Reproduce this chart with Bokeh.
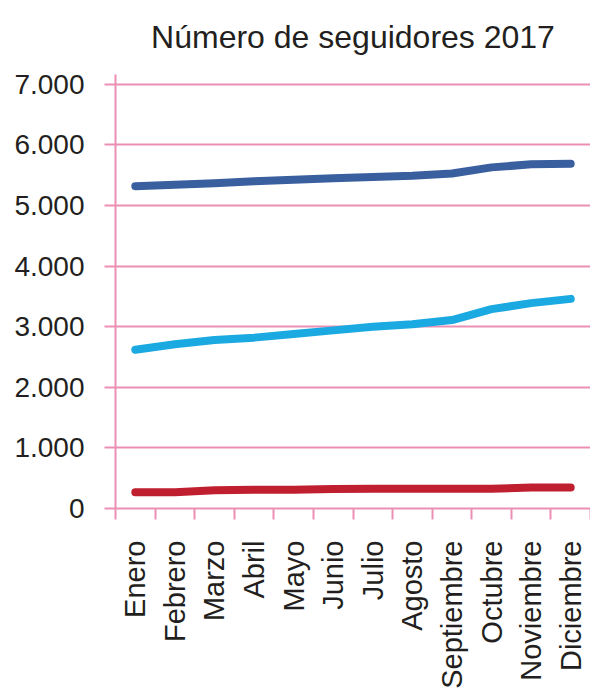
import math
from bokeh.plotting import figure
from bokeh.models import FixedTicker, Range1d
from bokeh.embed import file_html
from bokeh.resources import INLINE

# ---- data ----
months = ["Enero", "Febrero", "Marzo", "Abril", "Mayo", "Junio", "Julio",
          "Agosto", "Septiembre", "Octubre", "Noviembre", "Diciembre"]
serie_oscura = [5320, 5345, 5370, 5400, 5425, 5450, 5470, 5490, 5530, 5630, 5680, 5690]
serie_clara = [2620, 2710, 2780, 2820, 2880, 2940, 3000, 3040, 3110, 3290, 3390, 3460]
serie_roja = [270, 270, 300, 310, 310, 320, 325, 325, 325, 325, 345, 345]
y_ticks = [0, 1000, 2000, 3000, 4000, 5000, 6000, 7000]
y_tick_labels = ["0", "1.000", "2.000", "3.000", "4.000", "5.000", "6.000", "7.000"]
title_text = "Número de seguidores 2017"

# ---- style ----
PINK = "#ec8fb4"
TEXT = "#231f20"
FONT = "Liberation Sans"

x_centers = [i + 0.5 for i in range(len(months))]
x_bounds = list(range(len(months) + 1))

p = figure(width=590, height=691, output_backend="svg", toolbar_location=None,
           x_range=Range1d(0, len(months)), y_range=Range1d(0, 7163),
           min_border_left=115, min_border_right=0, min_border_top=74,
           min_border_bottom=0)
p.outline_line_color = None
p.background_fill_color = "white"
p.border_fill_color = "white"

p.title.text = title_text
p.title.align = "center"
p.title.vertical_align = "top"
p.title.text_font = FONT
p.title.text_font_size = "32px"
p.title.text_font_style = "normal"
p.title.text_color = TEXT
p.title.standoff = 36

# grids
p.xgrid.grid_line_color = None
p.ygrid.ticker = FixedTicker(ticks=y_ticks)
p.ygrid.grid_line_color = PINK
p.ygrid.grid_line_width = 2

# y axis
ya = p.yaxis[0]
ya.ticker = FixedTicker(ticks=y_ticks, minor_ticks=[])
ya.major_label_overrides = {t: l for t, l in zip(y_ticks, y_tick_labels)}
ya.axis_line_color = PINK
ya.axis_line_width = 2
ya.major_tick_line_color = PINK
ya.major_tick_line_width = 2
ya.major_tick_out = 11
ya.major_tick_in = 0
ya.minor_tick_line_color = None
ya.major_label_standoff = 20
ya.major_label_text_font = FONT
ya.major_label_text_font_size = "28px"
ya.major_label_text_color = TEXT

# x axis
xa = p.xaxis[0]
xa.ticker = FixedTicker(ticks=x_centers, minor_ticks=x_bounds)
xa.major_label_overrides = {c: m for c, m in zip(x_centers, months)}
xa.major_label_orientation = math.pi / 2
xa.axis_line_color = PINK
xa.axis_line_width = 2
xa.major_tick_out = 0
xa.major_tick_in = 0
xa.major_tick_line_color = None
xa.minor_tick_out = 11
xa.minor_tick_in = 0
xa.minor_tick_line_color = PINK
xa.minor_tick_line_width = 2
xa.major_label_standoff = 21
xa.major_label_text_font = FONT
xa.major_label_text_font_size = "29px"
xa.major_label_text_color = TEXT

# lines
for serie, col in [(serie_oscura, "#3a5f9f"), (serie_clara, "#1aa9e1"), (serie_roja, "#c01f30")]:
    p.line(x_centers, serie, line_width=8, line_color=col, line_cap="round", line_join="round")

open("out.html", "w").write(file_html(p, INLINE))
